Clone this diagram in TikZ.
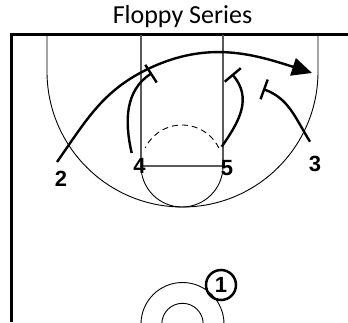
\documentclass[tikz,border=0pt]{standalone}
\usepackage{fontspec}
\setmainfont{Liberation Sans}
\newfontfamily\titlefont{Carlito}
\usetikzlibrary{arrows.meta}
\begin{document}
\begin{tikzpicture}[x=1pt,y=1pt,
  court/.style={line width=3pt},
  thinline/.style={line width=0.9pt},
  lane/.style={line width=1.2pt, black!65},
  move/.style={line width=2.4pt},
  screen/.style={move, -{Bar[width=21pt,line width=2.4pt]}},
  cut/.style={move, -{Triangle[length=20pt,width=18pt]}},
  num/.style={font=\fontsize{22}{22}\selectfont\bfseries, inner sep=0pt},
  ball/.style={circle, draw, line width=2.5pt, minimum size=30pt, inner sep=0pt,
    font=\fontsize{22}{22}\selectfont\bfseries}]
\useasboundingbox (0,0) rectangle (348,322);
% title
\node[font=\titlefont\fontsize{26}{26}\selectfont] (title) at (182.5,305) {Floppy Series};
% court
\draw[court] (10,287) -- (348,287);
\draw[court] (11.5,288.5) -- (11.5,0);
% lane
\draw[lane] (141,287) -- (141,156) -- (223,156) -- (223,287);
% free throw circle
\draw[thinline] (141,156) arc[start angle=180,end angle=360,radius=41pt];
\draw[thinline,dashed,dash pattern=on 6pt off 4pt] (182,156) ++(26:41pt) arc[start angle=26,end angle=154,radius=41pt];
% three point line
\draw[thinline] (47,287) -- (47,250.5) arc[start angle=180,end angle=360,radius=135.5pt] -- (318,287);
% center circles
\draw[thinline] (182.5,-2) circle[radius=41.5pt];
\draw[thinline] (182.5,-2) circle[radius=20.7pt];
% players
\node[num] (p2) at (61,143.5) {2};
\node[num] (p4) at (139.5,156.5) {4};
\node[num] (p5) at (227,153.7) {5};
\node[num] (p3) at (315,158.5) {3};
\node[ball] (p1) at (221,37) {1};
% movement coordinates
\coordinate (s2) at (57,160);
\coordinate (m2) at (150,254);
\coordinate (e2) at (312,249);
\coordinate (s4) at (131.7,169);
\coordinate (e4) at (152,249);
\coordinate (s5) at (221.7,175.3);
\coordinate (e5) at (232,248);
\coordinate (s3) at (310,180.3);
\coordinate (e3) at (263,233);
% cuts and screens
\draw[cut] (s2) to[out=55,in=205] (m2) to[out=25,in=162] (e2);
\draw[screen] (s4) to[out=103,in=213] (e4);
\draw[screen] (s5) to[out=55,in=-50,looseness=1.1] (e5);
\draw[screen] (s3) to[out=122,in=-20] (e3);
\end{tikzpicture}
\end{document}
